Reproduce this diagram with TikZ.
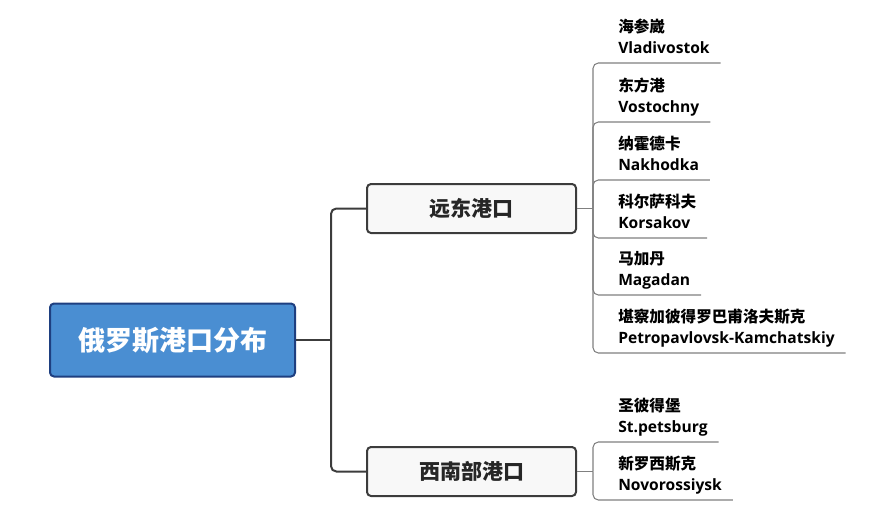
\documentclass[tikz,border=0pt]{standalone}
\usepackage{fontspec}
\setmainfont{Open Sans}
\newfontfamily\cjk{Noto Sans CJK SC}
\usepackage{tikz}
\usetikzlibrary{positioning}
\definecolor{rootblue}{HTML}{4A8ED2}
\definecolor{rootedge}{HTML}{1E3F80}
\definecolor{boxedge}{HTML}{3C3C3C}
\definecolor{boxfill}{HTML}{F8F8F8}
\definecolor{leafgray}{HTML}{808080}

\begin{document}
\begin{tikzpicture}[x=0.75pt,y=-0.75pt,
        rootbox/.style={draw=rootedge,fill=rootblue,line width=1.5pt,rounded corners=3pt,
          minimum width=183.75pt,minimum height=54.75pt,text=white,font=\cjk\bfseries\fontsize{20.25}{24}\selectfont},
        branchbox/.style={draw=boxedge,fill=boxfill,line width=1.5pt,rounded corners=3pt,
          minimum width=156.75pt,minimum height=36.75pt,text=black!85,font=\cjk\bfseries\fontsize{15.75}{19}\selectfont},
        leaf/.style={align=left,inner xsep=0pt,inner ysep=4.75pt,text depth=2pt,
          font=\bfseries\fontsize{11.7}{15.8}\selectfont},
        mainline/.style={draw=boxedge,line width=1.5pt,rounded corners=4pt},
        leafline/.style={draw=leafgray,line width=0.8pt,rounded corners=4pt}]
        \useasboundingbox (0,0) rectangle (895,511);
        \node[rootbox] (root) at (172.5,340) {俄罗斯港口分布};
        \node[branchbox] (far) at (471.5,208.5) {远东港口};
        \node[branchbox] (south) at (471.5,471.5) {西南部港口};
        \coordinate (re) at ([xshift=26.25pt]root.east); % edit here for the spine
        \draw[mainline] (root.east) -- (re);
        \draw[mainline] (re) |- (far.west);
        \draw[mainline] (re) |- (south.west);
        \coordinate (fe) at ([xshift=12pt]far.east);
        \draw[leafline] (far.east) -- (fe);
        \foreach \y/\cn/\en [count=\i] in {63/海参崴/Vladivostok,122/东方港/Vostochny,
            180/纳霍德卡/Nakhodka,238/科尔萨科夫/Korsakov,295/马加丹/Magadan,
            353/堪察加彼得罗巴甫洛夫斯克/Petropavlovsk-Kamchatskiy} % edit here for the far east ports
        {
        \node[leaf,anchor=south west] (p\i) at (618,\y) {{\cjk \cn}\\\en};
        \draw[leafline] (fe) |- ([xshift=8pt]p\i.south east);
        }
        \coordinate (se) at ([xshift=12pt]south.east);
        \draw[leafline] (south.east) -- (se);
        \foreach \y/\cn/\en [count=\i] in {442/圣彼得堡/St.petsburg,500/新罗西斯克/Novorossiysk} % edit here for the south west ports
        {
        \node[leaf,anchor=south west] (q\i) at (618,\y) {{\cjk \cn}\\\en};
        \draw[leafline] (se) |- ([xshift=8pt]q\i.south east);
        }
\end{tikzpicture}
\end{document}
